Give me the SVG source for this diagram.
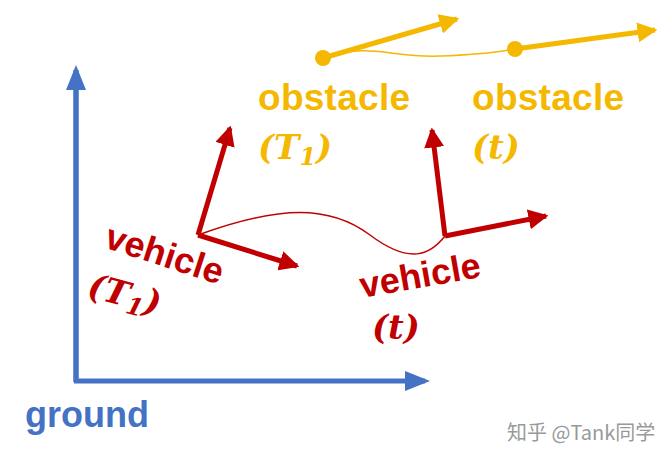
<svg xmlns="http://www.w3.org/2000/svg" width="672" height="460" viewBox="0 0 672 460">
<style>
.b{font-family:"Liberation Sans",Arial,sans-serif;font-weight:bold}
.m{font-family:"DejaVu Serif","Liberation Serif",serif;font-weight:bold;font-style:italic}
.y{fill:#F5B800}.r{fill:#C00000}
</style>
<defs>
<marker id="ab" markerWidth="5" markerHeight="4" refX="4" refY="2" orient="auto" markerUnits="strokeWidth"><path d="M0,0L5,2L0,4z" fill="#4472C4"/></marker>
<marker id="ar" markerWidth="4" markerHeight="4" refX="3.5" refY="2" orient="auto" markerUnits="strokeWidth"><path d="M0,0L4,2L0,4z" fill="#C00000"/></marker>
<marker id="ay" markerWidth="4" markerHeight="4" refX="3.5" refY="2" orient="auto" markerUnits="strokeWidth"><path d="M0,0L4,2L0,4z" fill="#F5B800"/></marker>
</defs>
<rect width="672" height="460" fill="#fff"/>
<g id="connectors" fill="none">
<path d="M76,382V70M74,381H425" stroke="#4472C4" stroke-width="5" marker-end="url(#ab)"/>
<path d="M76,382V70" stroke="#4472C4" stroke-width="5" marker-end="url(#ab)"/>
<path d="M198,235C280,205 330,205 370,235S430,255 445,236" stroke="#C00000" stroke-width="1.5"/>
<path d="M198,235L230,128" stroke="#C00000" stroke-width="5" marker-end="url(#ar)"/>
<path d="M198,235L297,266" stroke="#C00000" stroke-width="5" marker-end="url(#ar)"/>
<path d="M445,236L432,130" stroke="#C00000" stroke-width="5" marker-end="url(#ar)"/>
<path d="M445,236L546,216" stroke="#C00000" stroke-width="5" marker-end="url(#ar)"/>
<path d="M323,58C370,42 390,58 440,56S495,52 515,49" stroke="#F5B800" stroke-width="1.5"/>
<path d="M323,58L457,19" stroke="#F5B800" stroke-width="5" marker-end="url(#ay)"/>
<path d="M515,49L655,30" stroke="#F5B800" stroke-width="5" marker-end="url(#ay)"/>
<circle cx="323" cy="58" r="8" fill="#F5B800"/>
<circle cx="515" cy="49" r="8" fill="#F5B800"/>
</g>
<g id="obstacle1"><text x="258" y="110" class="b y" font-size="37" textLength="152">obstacle</text><text x="258" y="159" class="m y" font-size="34">(T<tspan font-size="24" dy="6">1</tspan><tspan dy="-6">)</tspan></text></g>
<g id="obstacle2"><text x="472" y="110" class="b y" font-size="37" textLength="152">obstacle</text><text x="472" y="159" class="m y" font-size="34">(t)</text></g>
<g id="vehicle1"><text transform="translate(103,247) rotate(18)" class="b r" font-size="36">vehicle</text><text transform="translate(86,296) rotate(15)" class="m r" font-size="34">(T<tspan font-size="24" dy="6">1</tspan><tspan dy="-6">)</tspan></text></g>
<g id="vehicle2"><text transform="translate(362,298) rotate(-10)" class="b r" font-size="36">vehicle</text><text x="372" y="339" class="m r" font-size="34">(t)</text></g>
<g id="ground"><text x="25" y="427" class="b" fill="#4472C4" font-size="36">ground</text></g>
<text x="507" y="440" font-family="'Noto Sans CJK SC',sans-serif" font-size="20" fill="#999">知乎 @Tank同学</text>
</svg>
